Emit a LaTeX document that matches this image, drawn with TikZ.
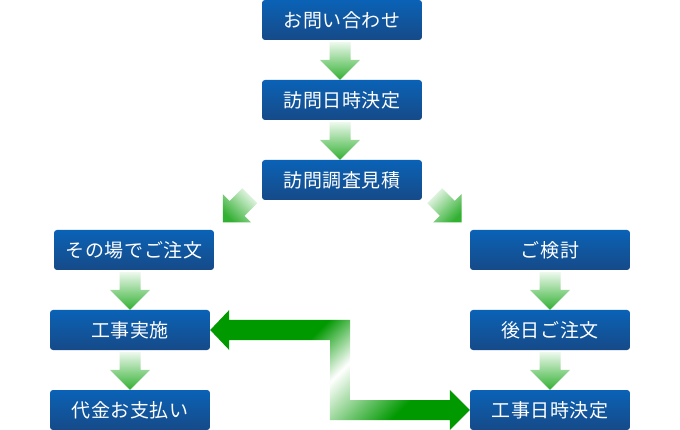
\documentclass[tikz,border=0pt]{standalone}
\usepackage{fontspec}
\newfontfamily\jpfont{Noto Sans CJK JP}[LetterSpace=3]
\usetikzlibrary{calc}
\definecolor{boxtop}{RGB}{10,98,182}
\definecolor{boxbot}{RGB}{22,74,136}
\definecolor{agreen}{RGB}{0,153,0}
\definecolor{sgreen}{RGB}{50,176,50}
\definecolor{spale}{RGB}{238,249,238}
\pgfdeclareverticalshading{bigarrow}{100bp}{color(0bp)=(agreen); color(41.25bp)=(agreen); color(50bp)=(white); color(55.6bp)=(agreen); color(100bp)=(agreen)}
\tikzset{
  stepbox/.style={rounded corners=3pt, top color=boxtop, bottom color=boxbot,
    minimum width=160pt, minimum height=40pt, inner sep=0pt, text=white,
    font=\jpfont\fontsize{19}{19}\selectfont},
  pics/darrow/.style={code={
    \shade[top color=spale, bottom color=sgreen, shading angle=#1]
      (-10.5,-38) -- (10.5,-38) -- (10.5,-20) -- (20,-20) -- (0,0)
      -- (-20,-20) -- (-10.5,-20) -- cycle;}},
  pics/darrow/.default=0
}
\begin{document}
\begin{tikzpicture}[x=1pt,y=-1pt]
\fill[white] (0,0) rectangle (680,430);
\useasboundingbox (0,0) rectangle (680,430);
% boxes
\node[stepbox] (A) at (342,20) {お問い合わせ};
\node[stepbox] (B) at (342,100) {訪問日時決定};
\node[stepbox] (C) at (342,180) {訪問調査見積};
\node[stepbox] (D) at (134,250) {その場でご注文};
\node[stepbox] (E) at (130,330) {工事実施};
\node[stepbox] (F) at (130,410) {代金お支払い};
\node[stepbox] (G) at (550,250) {ご検討};
\node[stepbox] (H) at (550,330) {後日ご注文};
\node[stepbox] (I) at (550,410) {工事日時決定};
% small arrows
\pic at ($(B.north)+(-2,0)$) {darrow};
\pic at ($(C.north)+(-2,0)$) {darrow};
\pic at (E.north) {darrow};
\pic at (F.north) {darrow};
\pic at (H.north) {darrow};
\pic at (I.north) {darrow};
\pic[rotate=-45] at ($(D.north east)+(8.7,-7.3)$) {darrow=-45};
\pic[rotate=45] at ($(G.north west)+(-8.3,-7.3)$) {darrow=45};
% big double arrow
\begin{scope}
\clip (E.east) -- ++(19,-20) -- ++(0,10) -- ($(E.east)+(140,-10)$)
  -- ($(I.west)+(-120,-10)$) -- ($(I.west)+(-20,-10)$) -- ($(I.west)+(-20,-20)$)
  -- (I.west) -- ($(I.west)+(-20,20)$) -- ($(I.west)+(-20,10)$)
  -- ($(I.west)+(-140,10)$) -- ($(E.east)+(120,10)$) -- ($(E.east)+(19,10)$)
  -- ($(E.east)+(19,20)$) -- cycle;
\begin{scope}[transform canvas={shift={(340,372)},rotate=45}]
\shade[shading=bigarrow] (-200,-200) rectangle (200,200);
\end{scope}
\end{scope}
\end{tikzpicture}
\end{document}
